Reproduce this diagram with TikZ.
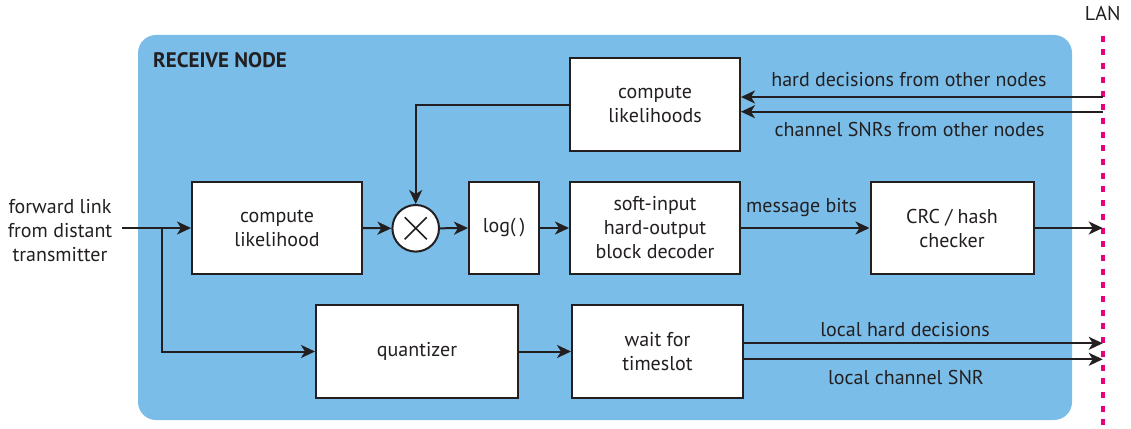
\documentclass[tikz,border=0pt]{standalone}
\usepackage{fontspec}
\setmainfont{PT Sans}
\usetikzlibrary{arrows.meta}
\definecolor{panelblue}{RGB}{122,189,232}
\definecolor{ink}{RGB}{35,31,32}
\definecolor{lanpink}{RGB}{230,0,126}
\begin{document}
\begin{tikzpicture}[x=1pt,y=-1pt,
  txt/.style={font=\fontsize{20}{24}\selectfont, text=ink, align=center, inner sep=0pt},
  blk/.style={txt, draw=ink, line width=2pt, fill=white},
  flow/.style={draw=ink, line width=2pt, -{Stealth[length=14pt,width=13pt,inset=4pt]}},
  wire/.style={draw=ink, line width=2pt}]
  \useasboundingbox (0,0) rectangle (1131,428);

  % receive node panel
  \fill[panelblue, rounded corners=18pt] (138,35) rectangle (1072,420);
  \node[txt, font=\fontsize{21}{24}\selectfont\bfseries, anchor=west] (title) at (153,60) {RECEIVE NODE};

  % LAN bus
  \node[txt] (lan) at (1102.7,14) {LAN};
  \draw[lanpink, line width=4pt, dash pattern=on 6pt off 7.7pt] (1102.7,35.7) -- (1102.7,428);
  \coordinate (lanA) at (1102.7,97);
  \coordinate (lanB) at (1102.7,111.7);
  \coordinate (lanC) at (1102.7,228);
  \coordinate (lanD) at (1102.7,343.3);
  \coordinate (lanE) at (1102.7,359.3);

  % blocks
  \node[blk, minimum width=170pt, minimum height=92pt] (cl) at (277,228) {compute\\likelihood};
  \node[circle, draw=ink, line width=2pt, fill=white, minimum size=46.6pt, inner sep=0pt] (mul) at (415.7,228.3) {};
  \draw[ink, line width=1.6pt] ([shift={(-11,-11)}]mul.center) -- ([shift={(11,11)}]mul.center)
                               ([shift={(-11,11)}]mul.center) -- ([shift={(11,-11)}]mul.center);
  \node[blk, minimum width=70pt, minimum height=92pt] (log) at (504,228) {log(\kern4pt)};
  \node[blk, minimum width=170pt, minimum height=92pt] (dec) at (655,228) {soft-input\\hard-output\\block decoder};
  \node[blk, minimum width=163pt, minimum height=92pt] (crc) at (952,228) {CRC / hash\\checker};
  \node[blk, minimum width=170pt, minimum height=93pt] (cls) at (655,104.5) {compute\\likelihoods};
  \node[blk, minimum width=202pt, minimum height=93pt] (qnt) at (417,351.5) {quantizer};
  \node[blk, minimum width=171pt, minimum height=93pt] (wait) at (657.5,351.5) {wait for\\timeslot};

  % input
  \node[txt] (fwd) at (60,231) {forward link\\from distant\\transmitter};
  \coordinate (in) at (122,228);
  \coordinate (split) at (161.8,228);

  % connectors
  \draw[flow] (in) -- (cl.west);
  \draw[flow] (split) |- (qnt.west);
  \draw[flow] (cl.east) -- (mul.west);
  \draw[flow] (cls.west) -| (mul.north);
  \draw[flow] (mul.east) -- (log.west);
  \draw[flow] (log.east) -- (dec.west);
  \draw[flow] (dec.east) -- (crc.west);
  \draw[flow] (crc.east) -- (lanC);
  \draw[flow] (lanA) -- (cls.east |- lanA);
  \draw[flow] (lanB) -- (cls.east |- lanB);
  \draw[flow] (qnt.east) -- (wait.west);
  \draw[flow] (wait.east |- lanD) -- (lanD);
  \draw[flow] (wait.east |- lanE) -- (lanE);

  % connector labels
  \node[txt] (lblbits) at (801.6,208) {message bits};
  \node[txt] (lblhard) at (909,80) {hard decisions from other nodes};
  \node[txt] (lblsnr) at (909.6,129) {channel SNRs from other nodes};
  \node[txt] (lbllhd) at (905,330) {local hard decisions};
  \node[txt] (lbllsnr) at (906,377) {local channel SNR};
\end{tikzpicture}
\end{document}
